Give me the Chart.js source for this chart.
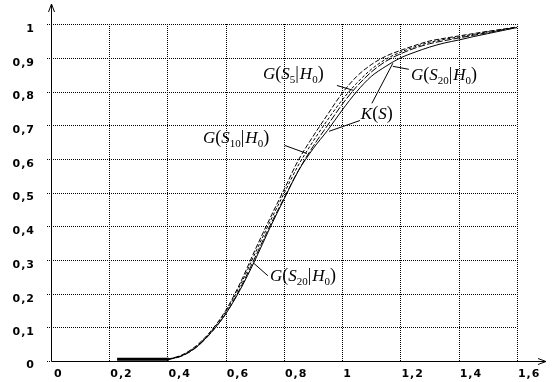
<!DOCTYPE html>
<html><head><meta charset="utf-8">
<script src="https://cdn.jsdelivr.net/npm/chart.js@4/dist/chart.umd.min.js"></script>
<style>html,body{margin:0;padding:0;background:#fff}#wrap{width:552px;height:382px}</style>
</head><body><div id="wrap"><canvas id="c" width="552" height="382"></canvas></div>
<script>
const sValues = [0.40,0.45,0.50,0.55,0.60,0.65,0.70,0.75,0.80,0.85,0.90,0.95,1.00,1.05,1.10,1.15,1.20,1.25,1.30,1.35,1.40,1.45,1.50,1.55,1.60];
const kS   = [0.004,0.016,0.042,0.085,0.140,0.212,0.298,0.392,0.480,0.565,0.630,0.685,0.745,0.800,0.845,0.875,0.900,0.917,0.932,0.944,0.953,0.963,0.972,0.981,0.990];
const gS5  = [0.005,0.018,0.046,0.090,0.150,0.232,0.328,0.420,0.508,0.597,0.667,0.732,0.795,0.845,0.880,0.905,0.922,0.937,0.950,0.958,0.965,0.972,0.979,0.985,0.992];
const gS10 = [0.004,0.017,0.044,0.088,0.146,0.225,0.318,0.410,0.497,0.582,0.652,0.716,0.775,0.825,0.866,0.896,0.917,0.933,0.946,0.955,0.962,0.970,0.977,0.984,0.991];
const gS20 = [0.004,0.015,0.041,0.084,0.140,0.216,0.306,0.398,0.483,0.566,0.637,0.700,0.762,0.815,0.858,0.890,0.912,0.929,0.942,0.951,0.959,0.967,0.975,0.983,0.990];
const baseX = [0.227,0.405];
const baseY = [0.005,0.005];
const xTicks = [0,0.2,0.4,0.6,0.8,1,1.2,1.4,1.6];
const xTickLabels = ["0","0,2","0,4","0,6","0,8","1","1,2","1,4","1,6"];
const yTicks = [0,0.1,0.2,0.3,0.4,0.5,0.6,0.7,0.8,0.9,1];
const yTickLabels = ["0","0,1","0,2","0,3","0,4","0,5","0,6","0,7","0,8","0,9","1"];

// annotation labels: [name, subscript, anchor x, anchor y (baseline)]
const labels = [
  {kind:"G", sub:"5",  x:0.728, y:0.836},
  {kind:"G", sub:"20", x:1.236, y:0.833},
  {kind:"K",           x:1.064, y:0.720},
  {kind:"G", sub:"10", x:0.522, y:0.646},
  {kind:"G", sub:"20", x:0.752, y:0.238}
];
const leaders = [
  [0.982,0.818,1.037,0.804],
  [1.174,0.875,1.229,0.866],
  [1.102,0.765,1.174,0.884],
  [1.061,0.714,0.955,0.682],
  [0.803,0.640,0.879,0.616],
  [0.745,0.253,0.694,0.292]
];

const pts = (xs, ys) => xs.map((x,i)=>({x, y:ys[i]}));

const IT = 'italic 17px "Liberation Serif"';
const RM = '18px "Liberation Serif"';
const SB = '11px "Liberation Serif"';

function drawRich(ctx, x, y, parts){
  ctx.textAlign='left'; ctx.textBaseline='alphabetic';
  for(const p of parts){
    ctx.font = p.f;
    ctx.fillText(p.t, x, y + (p.dy||0));
    x += ctx.measureText(p.t).width + (p.gap||0);
  }
}

const deco = {
  id:'deco',
  beforeDatasetsDraw(chart){
    const {ctx, scales:{x, y}} = chart;
    ctx.save();
    ctx.strokeStyle='#000'; ctx.lineWidth=1; ctx.setLineDash([1,1]);
    const x0 = Math.round(x.getPixelForValue(0)), x16 = Math.round(x.getPixelForValue(1.6));
    const y0 = Math.round(y.getPixelForValue(0)), y1 = Math.round(y.getPixelForValue(1));
    for(const v of yTicks){
      if(v===0) continue;
      const py = Math.round(y.getPixelForValue(v))+0.5;
      ctx.beginPath(); ctx.moveTo(x0-4, py); ctx.lineTo(x16, py); ctx.stroke();
    }
    ctx.beginPath(); ctx.moveTo(x0-4, y0+0.5); ctx.lineTo(x0, y0+0.5); ctx.stroke();
    for(const v of xTicks){
      if(v===0) continue;
      const px = Math.round(x.getPixelForValue(v))+0.5;
      ctx.beginPath(); ctx.moveTo(px, y1); ctx.lineTo(px, y0); ctx.stroke();
    }
    ctx.setLineDash([]);
    // axes
    const ax = x0+0.5, ay = y0+0.5;
    const top = chart.chartArea.top, right = chart.chartArea.right;
    ctx.beginPath(); ctx.moveTo(ax, ay); ctx.lineTo(ax, top); ctx.stroke();
    ctx.beginPath(); ctx.moveTo(ax-3, top+8); ctx.lineTo(ax, top); ctx.lineTo(ax+3, top+8); ctx.stroke();
    ctx.beginPath(); ctx.moveTo(ax, ay); ctx.lineTo(right, ay); ctx.stroke();
    ctx.beginPath(); ctx.moveTo(right-8, ay-3); ctx.lineTo(right, ay); ctx.lineTo(right-8, ay+3); ctx.stroke();
    // tick labels
    ctx.fillStyle='#000';
    ctx.font='bold 11px "DejaVu Sans"';
    try{ ctx.letterSpacing='1px'; }catch(e){}
    ctx.textBaseline='middle';
    ctx.textAlign='right';
    yTicks.forEach((v,i)=>{
      const py = y.getPixelForValue(v) + (v===0?4:5);
      ctx.fillText(yTickLabels[i], 35, py);
    });
    ctx.textAlign='left';
    xTicks.forEach((v,i)=>{
      const px = x.getPixelForValue(v) + (v===0?3:1);
      ctx.fillText(xTickLabels[i], px, 374);
    });
    ctx.restore();
  },
  afterDatasetsDraw(chart){
    const {ctx, scales:{x, y}} = chart;
    ctx.save();
    ctx.strokeStyle='#000'; ctx.fillStyle='#000'; ctx.lineWidth=1;
    for(const l of leaders){
      ctx.beginPath();
      ctx.moveTo(x.getPixelForValue(l[0]), y.getPixelForValue(l[1]));
      ctx.lineTo(x.getPixelForValue(l[2]), y.getPixelForValue(l[3]));
      ctx.stroke();
    }
    for(const l of labels){
      const px = x.getPixelForValue(l.x), py = y.getPixelForValue(l.y);
      if(l.kind==='K'){
        drawRich(ctx, px, py, [{t:'K',f:IT},{t:'(',f:RM},{t:'S',f:IT},{t:')',f:RM}]);
      } else {
        drawRich(ctx, px, py, [{t:'G',f:IT},{t:'(',f:RM},{t:'S',f:IT},{t:l.sub,f:SB,dy:4},{t:'|',f:RM,gap:1},{t:'H',f:IT},{t:'0',f:SB,dy:4},{t:')',f:RM}]);
      }
    }
    ctx.restore();
  }
};

const common = {borderColor:'#000', pointRadius:0, borderWidth:1, fill:false, cubicInterpolationMode:'monotone'};
new Chart(document.getElementById('c'), {
  type:'line',
  data:{datasets:[
    {...common, label:'K(S)', data:pts(sValues,kS)},
    {...common, label:'G(S5|H0)', data:pts(sValues,gS5), borderDash:[5,2]},
    {...common, label:'G(S10|H0)', data:pts(sValues,gS10), borderDash:[3,2]},
    {...common, label:'G(S20|H0)', data:pts(sValues,gS20), borderDash:[7,2]},
    {...common, label:'base', data:pts(baseX,baseY), borderWidth:3}
  ]},
  options:{
    responsive:false, animation:false, devicePixelRatio:1,
    layout:{padding:{left:51, right:6, top:4, bottom:21}},
    plugins:{legend:{display:false}, tooltip:{enabled:false}},
    scales:{
      x:{type:'linear', min:0, max:1.7, display:false},
      y:{type:'linear', min:0, max:1.06, display:false}
    }
  },
  plugins:[deco]
});
</script>
</body></html>
